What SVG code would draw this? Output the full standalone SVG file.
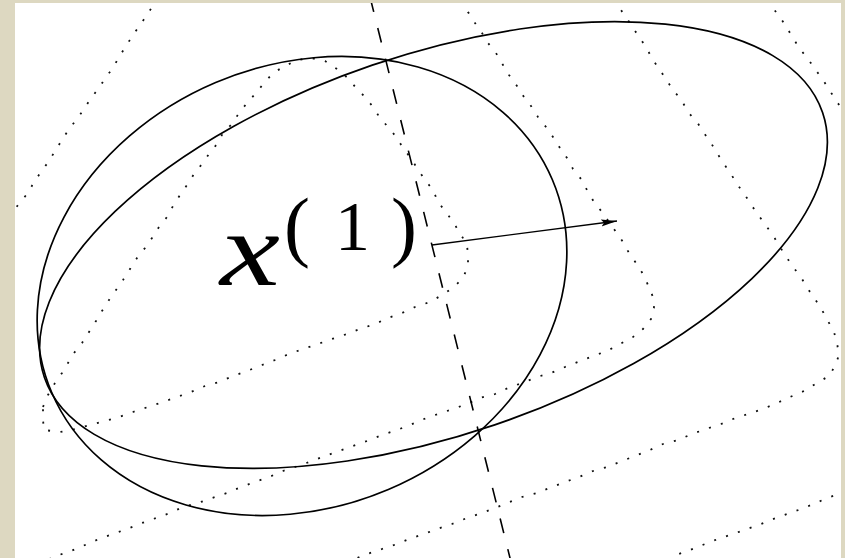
<svg xmlns="http://www.w3.org/2000/svg" width="845" height="558" viewBox="0 0 845 558">
  <defs>
    <clipPath id="paper"><rect x="15" y="3" width="826" height="555"/></clipPath>
    <marker id="head" markerUnits="userSpaceOnUse" markerWidth="18" markerHeight="10" refX="16" refY="3.5" orient="auto">
      <path d="M0,0 L16,3.5 L0,7 L3,3.5 Z" fill="#000"/>
    </marker>
  </defs>
  <style>
    .dot { fill: none; stroke: #111; stroke-width: 1.8; stroke-dasharray: 2 10.5; }
    .solid { fill: none; stroke: #000; stroke-width: 1.7; }
    .dash { fill: none; stroke: #000; stroke-width: 1.6; stroke-dasharray: 15 16.6; }
  </style>
  <rect x="0" y="0" width="845" height="558" fill="#ddd8c1"/>
  <rect x="15" y="3" width="826" height="555" fill="#fff"/>
  <g clip-path="url(#paper)">
    <g id="grid">
      <path class="dot" d="M43,407 L48,395 55,383 62,373 68,363 74,353 82,343 89,332 96,321 102,311 109,300 116,290 123,280 130,269 137,258 145,248 152,238 159,227 167,217 173,206 180,195 187,185 194,174 202,164 209,154 217,144 223,133 232,124 239,113 247,103 256,93 264,83 273,73 285,66 297,60 311,58 325,61 337,69 349,79 356,88 366,98 373,107 380,118 389,128 397,138 403,148 410,157 417,168 425,180 433,190 438,202 446,212 453,222 460,233 467,245 468,255 468,266 463,278 454,287 442,295 430,302 415,307 402,313 388,318 375,324 360,329 347,334 332,339 318,344 303,349 289,354 275,360 262,365 247,371 233,376 219,382 205,386 191,392 177,397 163,402 148,407 133,412 119,417 105,421 90,425 76,429 60,432 44,430 43,420 Z"/>
      <path class="dot" d="M157,-2 L154,4 147,15 140,25 133,35 126,46 119,57 113,68 106,77 99,88 91,98 84,109 77,119 69,129 62,140 55,151 49,161 41,172 34,182 28,193 21,201 12,213"/>
      <path class="dot" d="M464,0 L468,12 475,23 482,33 488,43 496,53 503,65 509,75 517,86 524,97 531,106 538,117 546,127 553,137 560,148 567,158 573,169 581,179 587,190 594,202 602,212 609,222 616,232 623,242 629,253 636,263 643,274 648,285 653,297 654,308 651,319 643,329 633,337 620,344 607,351 593,356 578,362 565,367 551,373 537,377 522,383 508,388 495,394 480,398 467,404 453,409 438,414 424,419 410,425 397,430 382,435 367,441 353,446 339,451 325,456 312,461 298,466 283,471 269,477 255,482 241,487 227,493 212,498 198,503 183,507 170,513 156,518 142,523 127,529 113,534 99,539 85,545 71,551 56,556 45,561"/>
      <path class="dot" d="M614,0 L618,6 626,17 633,28 640,38 647,49 653,60 660,70 667,81 674,91 682,101 688,112 697,122 704,133 711,143 717,153 724,164 731,174 737,184 745,195 752,206 759,216 767,227 774,237 780,247 787,258 794,268 802,279 808,289 815,299 822,310 828,321 834,332 837,343 839,355 835,366 829,376 817,383 804,391 790,397 777,403 763,409 748,414 733,419 721,424 706,429 692,434 678,440 663,444 650,450 635,456 622,461 607,467 593,471 579,477 565,482 552,487 537,493 522,497 507,503 495,508 482,513 467,518 452,524 437,529 424,534 409,539 397,544 382,549 367,554 352,560"/>
      <path class="dot" d="M768,0 L772,7 780,17 787,28 793,38 800,49 808,59 815,69 823,80 830,91 837,102 845,113"/>
      <path class="dot" d="M845,492 L830,497 818,502 804,508 790,513 776,518 761,524 747,529 733,534 718,539 705,544 690,550 676,555 668,560"/>
    </g>
    <path id="dashed-curve" class="dash" d="M370.1,-2.7 L510.5,560"/>
    <g id="ellipse-a">
      <ellipse class="solid" cx="302" cy="286" rx="272" ry="221" transform="rotate(-23 302 286)"/>
    </g>
    <g id="ellipse-b">
      <ellipse class="solid" cx="433.5" cy="245" rx="411" ry="190" transform="rotate(-18.8 433.5 245)"/>
    </g>
    <g id="label-x1" font-family="'Liberation Serif', 'Times New Roman', serif" fill="#000">
      <text x="220" y="285" font-style="italic" font-size="106" textLength="60" lengthAdjust="spacingAndGlyphs">x</text>
      <text font-size="78" y="252"><tspan x="284">(</tspan><tspan x="391">)</tspan></text>
      <text font-size="70" y="250" x="335">1</text>
    </g>
    <g id="connectors">
      <path d="M432,245 L617,221" fill="none" stroke="#000" stroke-width="1.4" marker-end="url(#head)"/>
    </g>
  </g>
</svg>
